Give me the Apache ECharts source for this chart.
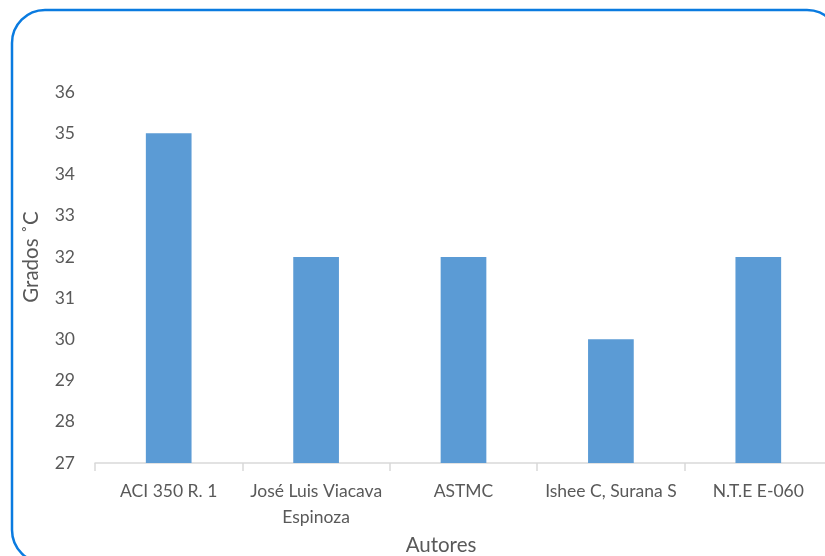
<!DOCTYPE html>
<html>
<head>
<meta charset="utf-8">
<script src="https://cdn.jsdelivr.net/npm/echarts@6/dist/echarts.min.js"></script>
<style>
html,body{margin:0;padding:0;background:#fff;overflow:hidden;width:825px;height:556px;}
#c{width:845px;height:556px;}
</style>
</head>
<body>
<div id="c"></div>
<script>
const categories = ['ACI 350 R. 1', 'José Luis Viacava\nEspinoza', 'ASTMC', 'Ishee C, Surana S', 'N.T.E E-060'];
const values = [35, 32, 32, 30, 32];
const yTicks = { min: 27, max: 36, interval: 1 };
const yTitle = 'Grados ˚C';
const xTitle = 'Autores';

const chart = echarts.init(document.getElementById('c'));
const font = 'Lato, "Open Sans", sans-serif';
chart.setOption({
  animation: false,
  grid: { left: 95, top: 92, width: 737, height: 371, containLabel: false },
  xAxis: {
    type: 'category',
    data: categories,
    axisLine: { lineStyle: { color: '#d9d9d9', width: 1.5 } },
    axisTick: { show: true, length: 8, lineStyle: { color: '#d9d9d9', width: 1.5 } },
    axisLabel: { color: '#595959', fontSize: 17.5, fontFamily: font, margin: 15, lineHeight: 26, interval: 0 },
    splitLine: { show: false }
  },
  yAxis: {
    type: 'value',
    min: yTicks.min, max: yTicks.max, interval: yTicks.interval,
    axisLine: { show: false },
    axisTick: { show: false },
    splitLine: { show: false },
    axisLabel: { color: '#595959', fontSize: 17.5, fontFamily: font, margin: 20 }
  },
  series: [{
    type: 'bar',
    data: values,
    barWidth: '31%',
    itemStyle: { color: '#5b9bd5' }
  }],
  graphic: [
    { type: 'rect', shape: { x: 12, y: 10, width: 828, height: 553, r: 33 },
      style: { fill: 'none', stroke: '#0a7be0', lineWidth: 2.5 }, z: 100 },
    { type: 'text', x: 441, y: 545, style: { text: xTitle, fill: '#595959', font: '20.5px ' + font, textAlign: 'center', textVerticalAlign: 'middle' } },
    { type: 'text', x: 31, y: 257, rotation: Math.PI / 2, style: { text: yTitle, fill: '#595959', font: '20.5px ' + font, textAlign: 'center', textVerticalAlign: 'middle' } }
  ]
});
</script>
</body>
</html>
